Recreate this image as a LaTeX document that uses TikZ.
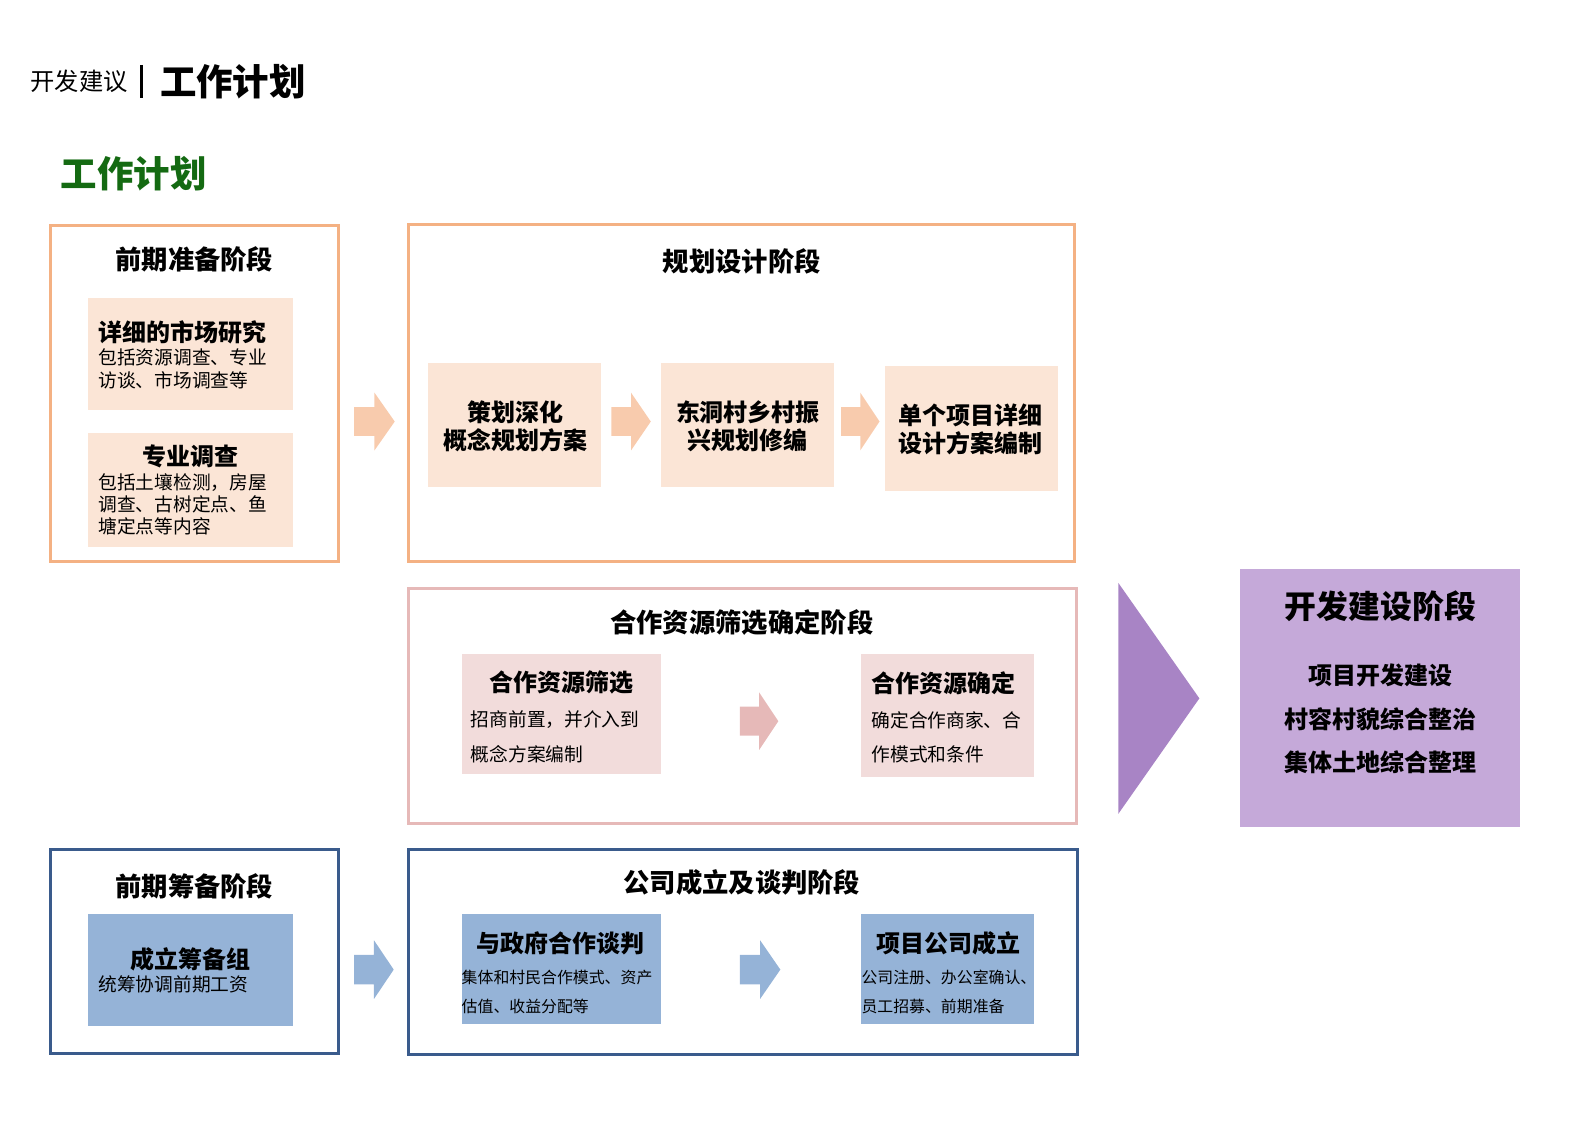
\documentclass[tikz,border=0pt]{standalone}
\usepackage{fontspec}
\setmainfont{Noto Sans CJK SC}
\definecolor{oline}{HTML}{F4B183}
\definecolor{ofill}{HTML}{FBE5D6}
\definecolor{oarr}{HTML}{F8CBAD}
\definecolor{pline}{HTML}{E6B9B8}
\definecolor{pfill}{HTML}{F2DCDB}
\definecolor{parr}{HTML}{E6B9B8}
\definecolor{bline}{HTML}{3A5B8C}
\definecolor{bfill}{HTML}{95B3D7}
\definecolor{vtri}{HTML}{A884C5}
\definecolor{vfill}{HTML}{C5A9D9}
\definecolor{gtitle}{HTML}{146A12}
\newcommand\blockarr[5]{%
  \fill[#1] ({#2},{#4-#5/2}) -- ({(#2+#3)/2},{#4-#5/2}) -- ({(#2+#3)/2},{#4-#5})
    -- ({#3},{#4}) -- ({(#2+#3)/2},{#4+#5}) -- ({(#2+#3)/2},{#4+#5/2}) -- ({#2},{#4+#5/2}) -- cycle;}
\tikzset{
  frame/.style={line width=3pt, anchor=north west, inner sep=0, outer sep=0},
  inbox/.style={anchor=north west, inner sep=0, outer sep=0},
  ttl/.style={font=\fontsize{26}{30}\selectfont\bfseries, inner sep=0},
  sub/.style={font=\fontsize{23.7}{28}\selectfont\bfseries, inner sep=0},
  desc/.style={font=\fontsize{18.5}{22}\selectfont, inner sep=0, anchor=west},
  smalldesc/.style={font=\fontsize{15.7}{19}\selectfont, inner sep=0, anchor=west},
}
\begin{document}
\begin{tikzpicture}[x=1pt,y=-1pt]
\useasboundingbox (0,0) rectangle (1568,1110);
% header
\node[anchor=west, inner sep=0, font=\fontsize{24}{28}\selectfont] (h1) at (30,80) {开发建议};
\coordinate (bar1) at (140,64);
\coordinate (bar2) at (140,97);
\draw[line width=3pt] (bar1) -- (bar2);
\node[anchor=west, inner sep=0, font=\fontsize{36}{40}\selectfont\bfseries] (h2) at (158,81) {工作计划};
\node[anchor=west, inner sep=0, font=\fontsize{36}{40}\selectfont\bfseries, text=gtitle] (h3) at (60,172) {工作计划};

% Box A
\node[frame, draw=oline, minimum width=284pt, minimum height=332pt] (A) at (50,223) {};
\node[ttl] (At) at (192,256) {前期准备阶段};
\node[inbox, fill=ofill, minimum width=202pt, minimum height=111pt] (A1) at (87,294) {};
\node[sub, anchor=west] (A1t) at (97,328) {详细的市场研究};
\node[desc] (A1a) at (97,353) {包括资源调查、专业};
\node[desc] (A1b) at (97,376) {访谈、市场调查等};
\node[inbox, fill=ofill, minimum width=202pt, minimum height=112pt] (A2) at (87,428) {};
\node[sub] (A2t) at (188,451) {专业调查};
\node[desc] (A2a) at (97,477) {包括土壤检测，房屋};
\node[desc] (A2b) at (97,498) {调查、古树定点、鱼};
\node[desc] (A2c) at (97,520) {塘定点等内容};
\blockarr{oarr}{350}{390}{416.5}{28.5}

% Box B
\node[frame, draw=oline, minimum width=658pt, minimum height=333pt] (B) at (404,222) {};
\node[ttl] (Bt) at (733,258) {规划设计阶段};
\node[inbox, fill=ofill, minimum width=171pt, minimum height=122pt] (B1) at (423,359) {};
\node[sub, align=center] (B1t) at (509,421) {策划深化\\概念规划方案};
\blockarr{oarr}{604}{643}{416.5}{28.5}
\node[inbox, fill=ofill, minimum width=171pt, minimum height=122pt] (B2) at (653,359) {};
\node[sub, align=center] (B2t) at (739,421) {东洞村乡村振\\兴规划修编};
\blockarr{oarr}{831}{869}{416.5}{28.5}
\node[inbox, fill=ofill, minimum width=171pt, minimum height=123pt] (B3) at (874,362) {};
\node[sub, align=center] (B3t) at (959,424) {单个项目详细\\设计方案编制};

% Box C
\node[frame, draw=pline, minimum width=660pt, minimum height=233pt] (C) at (404,581) {};
\node[ttl] (Ct) at (733,615) {合作资源筛选确定阶段};
\node[inbox, fill=pfill, minimum width=197pt, minimum height=119pt] (C1) at (456,646) {};
\node[sub] (C1t) at (555,674) {合作资源筛选};
\node[desc] (C1a) at (465,711) {招商前置，并介入到};
\node[desc] (C1b) at (465,745) {概念方案编制};
\blockarr{parr}{731}{769}{712.5}{28.5}
\node[inbox, fill=pfill, minimum width=171pt, minimum height=122pt] (C2) at (851,646) {};
\node[sub, anchor=west] (C2t) at (861,675) {合作资源确定};
\node[desc] (C2a) at (861,712) {确定合作商家、合};
\node[desc] (C2b) at (861,745) {作模式和条件};

% Purple
\fill[vtri] (1105,576) -- (1185,690) -- (1105,804) -- cycle;
\node[inbox, fill=vfill, minimum width=277pt, minimum height=255pt] (D) at (1225,562) {};
\node[inner sep=0, font=\fontsize{31.5}{36}\selectfont\bfseries] (Dt) at (1364,599) {开发建设阶段};
\node[sub] (Da) at (1364,667) {项目开发建设};
\node[sub] (Db) at (1364,711) {村容村貌综合整治};
\node[sub] (Dc) at (1364,753) {集体土地综合整理};

% Box E
\node[frame, draw=bline, minimum width=284pt, minimum height=202pt] (E) at (50,839) {};
\node[ttl] (Et) at (192,876) {前期筹备阶段};
\node[inbox, fill=bfill, minimum width=202pt, minimum height=111pt] (E1) at (87,903) {};
\node[sub] (E1t) at (188,948) {成立筹备组};
\node[desc] (E1a) at (97,973) {统筹协调前期工资};
\blockarr{bfill}{350}{389}{958}{29}

% Box F
\node[frame, draw=bline, minimum width=661pt, minimum height=203pt] (F) at (404,839) {};
\node[ttl] (Ft) at (733,872) {公司成立及谈判阶段};
\node[inbox, fill=bfill, minimum width=197pt, minimum height=109pt] (F1) at (456,903) {};
\node[sub] (F1t) at (554,932) {与政府合作谈判};
\node[smalldesc] (F1a) at (456,966) {集体和村民合作模式、资产};
\node[smalldesc] (F1b) at (456,994) {估值、收益分配等};
\blockarr{bfill}{731}{771}{958}{29}
\node[inbox, fill=bfill, minimum width=171pt, minimum height=109pt] (F2) at (851,903) {};
\node[sub] (F2t) at (937,932) {项目公司成立};
\node[smalldesc] (F2a) at (851,966) {公司注册、办公室确认、};
\node[smalldesc] (F2b) at (851,994) {员工招募、前期准备};
\end{tikzpicture}
\end{document}
